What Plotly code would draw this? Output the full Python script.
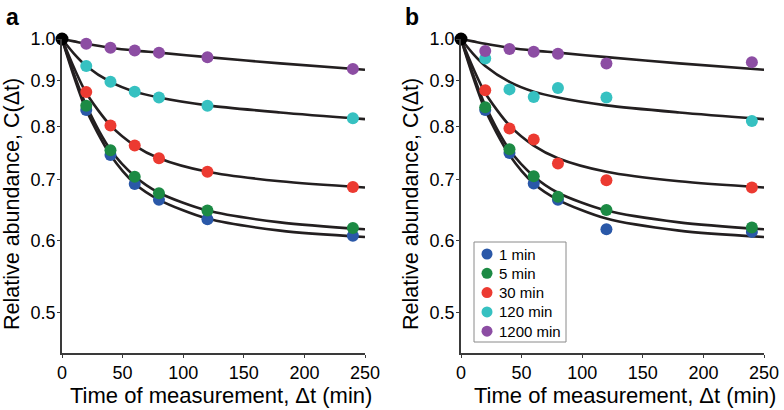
import plotly.graph_objects as go

# ---------------- data ----------------
series_names = ["1 min", "5 min", "30 min", "120 min", "1200 min"]
series_colors = ["#2a58a8", "#1c8a44", "#ec3a31", "#36c1c1", "#8c4da3"]

t_meas = [20, 40, 60, 80, 120, 240]

# panel a measurements
a_1min = [0.835, 0.745, 0.692, 0.665, 0.633, 0.607]
a_5min = [0.844, 0.754, 0.705, 0.676, 0.647, 0.619]
a_30min = [0.874, 0.803, 0.763, 0.739, 0.714, 0.687]
a_120min = [0.934, 0.897, 0.875, 0.862, 0.844, 0.818]
a_1200min = [0.988, 0.978, 0.971, 0.966, 0.955, 0.927]

# panel b measurements
b_1min = [0.835, 0.749, 0.693, 0.665, 0.617, 0.613]
b_5min = [0.841, 0.756, 0.706, 0.670, 0.648, 0.620]
b_30min = [0.878, 0.797, 0.775, 0.729, 0.699, 0.686]
b_120min = [0.952, 0.880, 0.863, 0.883, 0.862, 0.812]
b_1200min = [0.970, 0.975, 0.968, 0.963, 0.940, 0.943]

# fitted curves (same in both panels)
curve_t = [0, 10, 20, 40, 60, 80, 120, 180, 250]
c_1min = [1.0, 0.908, 0.835, 0.745, 0.693, 0.665, 0.634, 0.615, 0.605]
c_5min = [1.0, 0.914, 0.845, 0.755, 0.706, 0.677, 0.647, 0.628, 0.617]
c_30min = [1.0, 0.929, 0.872, 0.803, 0.763, 0.739, 0.714, 0.697, 0.686]
c_120min = [1.0, 0.963, 0.934, 0.897, 0.875, 0.862, 0.845, 0.830, 0.816]
c_1200min = [1.0, 0.994, 0.988, 0.978, 0.971, 0.966, 0.955, 0.940, 0.925]

origin_t = [0]
origin_c = [1.0]

x_ticks = [0, 50, 100, 150, 200, 250]
y_ticks = [0.5, 0.6, 0.7, 0.8, 0.9, 1.0]
y_ticklabels = ["0.5", "0.6", "0.7", "0.8", "0.9", "1.0"]

panel_a = [a_1min, a_5min, a_30min, a_120min, a_1200min]
panel_b = [b_1min, b_5min, b_30min, b_120min, b_1200min]
curves = [c_1min, c_5min, c_30min, c_120min, c_1200min]

FONT = "Liberation Sans, Arial, sans-serif"
LINE_COLOR = "#231f20"

fig = go.Figure()

for panel_idx, (panel, xa, ya) in enumerate([(panel_a, "x", "y"), (panel_b, "x2", "y2")]):
    for c in curves:
        fig.add_trace(go.Scatter(
            x=curve_t, y=c, mode="lines", xaxis=xa, yaxis=ya,
            line=dict(color=LINE_COLOR, width=2.6, shape="spline", smoothing=0.8),
            showlegend=False, hoverinfo="skip", cliponaxis=False))
    for name, color, vals in zip(series_names, series_colors, panel):
        fig.add_trace(go.Scatter(
            x=t_meas, y=vals, mode="markers", xaxis=xa, yaxis=ya,
            name=name, showlegend=False,
            marker=dict(color=color, size=12, line=dict(width=0)),
            cliponaxis=False))
    fig.add_trace(go.Scatter(
        x=origin_t, y=origin_c, mode="markers", xaxis=xa, yaxis=ya,
        marker=dict(color="black", size=13), showlegend=False, cliponaxis=False))

W, H = 784, 410
xa_dom = [62 / W, 365 / W]
xb_dom = [461 / W, 764 / W]
y_dom = [57 / H, 371 / H]

axis_common = dict(
    showgrid=False, zeroline=False, showline=True, linecolor="#3a3a3a", linewidth=1.5,
    ticks="outside", ticklen=3, tickwidth=1, tickcolor="#3a3a3a", automargin=False,
    tickfont=dict(family=FONT, size=18, color="black"),
)

def xaxis(dom, anchor):
    return dict(axis_common, domain=dom, anchor=anchor, range=[0, 250],
                tickvals=x_ticks, ticklabelstandoff=0)

def yaxis(anchor):
    return dict(axis_common, domain=y_dom, anchor=anchor, type="log",
                range=[-0.346, 0.0], tickvals=y_ticks, ticktext=y_ticklabels,
                ticklabelstandoff=-2)

annotations = []
# axis titles
for cx in (221, 625):
    annotations.append(dict(text="Time of measurement, \u0394t (min)", x=cx / W, y=1 - 395 / H,
                            xref="paper", yref="paper", xanchor="center", yanchor="middle",
                            showarrow=False, font=dict(family=FONT, size=22, color="black")))
for cx in (12, 411):
    annotations.append(dict(text="Relative abundance, C(\u0394t)", x=cx / W, y=1 - 204 / H,
                            xref="paper", yref="paper", xanchor="center", yanchor="middle",
                            textangle=-90, showarrow=False,
                            font=dict(family=FONT, size=21.5, color="black")))
# panel letters
for letter, lx in (("a", 4), ("b", 403)):
    annotations.append(dict(text="<b>%s</b>" % letter, x=lx / W, y=1 - 2 / H, xref="paper",
                            yref="paper", xanchor="left", yanchor="top", showarrow=False,
                            font=dict(family=FONT, size=23, color="black")))

# legend (drawn manually to match the compact original layout)
shapes = [dict(type="rect", xref="paper", yref="paper",
               x0=474 / W, x1=566 / W, y0=1 - 342 / H, y1=1 - 242 / H,
               line=dict(color="#8a8a8a", width=1), fillcolor="white", layer="above")]
leg_y0, leg_dy = 254, 19.3
for i, (name, color) in enumerate(zip(series_names, series_colors)):
    cy = leg_y0 + i * leg_dy
    shapes.append(dict(type="circle", xref="paper", yref="paper",
                       x0=(487 - 5.5) / W, x1=(487 + 5.5) / W,
                       y0=1 - (cy + 5.5) / H, y1=1 - (cy - 5.5) / H,
                       fillcolor=color, line=dict(width=0), layer="above"))
    annotations.append(dict(text=name, x=497 / W, y=1 - cy / H, xref="paper", yref="paper",
                            xanchor="left", yanchor="middle", showarrow=False,
                            font=dict(family=FONT, size=15, color="black")))

fig.update_layout(
    width=W, height=H,
    margin=dict(l=0, r=0, t=0, b=0, autoexpand=False),
    paper_bgcolor="white", plot_bgcolor="white",
    font=dict(family=FONT, color="black"),
    xaxis=xaxis(xa_dom, "y"),
    yaxis=yaxis("x"),
    xaxis2=xaxis(xb_dom, "y2"),
    yaxis2=yaxis("x2"),
    annotations=annotations,
    shapes=shapes,
    showlegend=False,
)

fig.write_html("out.html", config={"displayModeBar": False},
               post_script="document.body.style.margin='0';document.body.style.overflow='hidden';")
